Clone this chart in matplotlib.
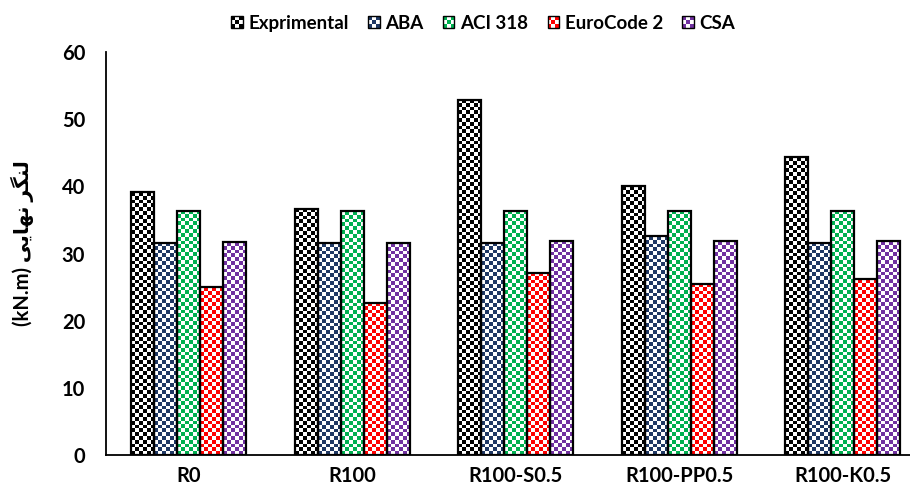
import numpy as np
import matplotlib
matplotlib.use("Agg")
import matplotlib.pyplot as plt
from matplotlib.patches import Rectangle
from matplotlib.legend_handler import HandlerBase
from matplotlib.colors import to_rgb

categories = ["R0", "R100", "R100-S0.5", "R100-PP0.5", "R100-K0.5"]
exprimental = [39.1, 36.7, 52.9, 40.0, 44.3]
aba = [31.6, 31.5, 31.6, 32.6, 31.6]
aci318 = [36.4, 36.3, 36.4, 36.4, 36.4]
eurocode2 = [25.0, 22.7, 27.1, 25.5, 26.2]
csa = [31.7, 31.5, 31.9, 31.8, 31.8]
series_names = ["Exprimental", "ABA", "ACI 318", "EuroCode 2", "CSA"]
colors = ["#000000", "#1F3864", "#00B050", "#FF0000", "#7030A0"]

# persian label, pre-shaped in visual order (matplotlib has no bidi/shaping)
word1 = "\uFBFD\uFBFE\uFE8E\uFEEC\uFEE7"   # nahayi reversed
word2 = "\uFEAE\uFB95\uFEE8\uFEDF"          # langar reversed
ylabel = "(kN.m) " + word1 + " " + word2

plt.rcParams["font.family"] = ["Lato", "DejaVu Sans"]
plt.rcParams["font.weight"] = "bold"

CELL = 3.8  # checker square size in px


def checker(color, nx, ny):
    img = np.ones((ny, nx, 3))
    mask = (np.add.outer(np.arange(ny), np.arange(nx)) % 2) == 0
    img[mask] = np.array(to_rgb(color))
    return img


class CheckerHandler(HandlerBase):
    def create_artists(self, legend, orig_handle, xdescent, ydescent,
                       width, height, fontsize, trans):
        col = orig_handle.get_edgecolor()
        size = min(width, height)
        x0 = -xdescent + (width - size) / 2
        y0 = -ydescent + (height - size) / 2
        arts = []
        n = 3
        s = size / n
        for i in range(n):
            for j in range(n):
                fc = col if (i + j) % 2 == 0 else "white"
                arts.append(Rectangle((x0 + i * s, y0 + j * s), s, s,
                                      facecolor=fc, edgecolor="none",
                                      transform=trans))
        arts.append(Rectangle((x0, y0), size, size, facecolor="none",
                              edgecolor="black", lw=1.0, transform=trans))
        return arts


fig = plt.figure(figsize=(9.1, 4.93), dpi=100)
ax = fig.add_axes([0.1165, 0.077, 0.8835, 0.8175])
xlim = (-0.504, 4.41)
ax.set_xlim(*xlim)
ax.set_ylim(0, 60)

all_series = [exprimental, aba, aci318, eurocode2, csa]
width = 0.1406
x = np.arange(len(categories))
handles = []
for k, (vals, col) in enumerate(zip(all_series, colors)):
    pos = x + (k - 2) * width
    bars = ax.bar(pos, vals, width, facecolor="none", edgecolor="black",
                  linewidth=1.6, zorder=3)
    for p in bars:
        bx, by = p.get_x(), p.get_y()
        bw, bh = p.get_width(), p.get_height()
        (px0, py0), (px1, py1) = ax.transData.transform([(bx, by), (bx + bw, by + bh)])
        nx = max(1, int(round((px1 - px0) / CELL)))
        ny = max(1, int(round((py1 - py0) / CELL)))
        ax.imshow(checker(col, nx, ny), extent=(bx, bx + bw, by, by + bh),
                  aspect="auto", interpolation="nearest", origin="lower",
                  zorder=2)
    h = Rectangle((0, 0), 1, 1, edgecolor=col, facecolor="none")
    handles.append(h)

ax.set_xlim(*xlim)
ax.set_ylim(0, 60)
ax.set_yticks(np.arange(0, 61, 10))
ax.set_xticks(x)
ax.set_xticklabels(categories, fontsize=14.5, fontweight="bold")
ax.tick_params(axis="y", labelsize=14.5, length=0, pad=15)
ax.tick_params(axis="x", length=0, pad=8)
for lab in ax.get_yticklabels():
    lab.set_fontweight("bold")
ax.spines["top"].set_visible(False)
ax.spines["right"].set_visible(False)
ax.spines["left"].set_linewidth(1.3)
ax.spines["bottom"].set_linewidth(1.3)

fig.text(22 / 910, 1 - 243 / 493, ylabel, rotation=90, ha="center",
         va="center", fontsize=14.5, fontweight="bold")

fig.legend(handles, series_names, loc="center", bbox_to_anchor=(0.531, 0.953),
           ncol=5, frameon=False,
           handler_map={Rectangle: CheckerHandler()},
           handlelength=0.6, handleheight=0.6, handletextpad=0.3,
           columnspacing=1.05, borderaxespad=0, borderpad=0,
           prop={"weight": "bold", "size": 13.5})

fig.savefig("out.png", dpi=100)
